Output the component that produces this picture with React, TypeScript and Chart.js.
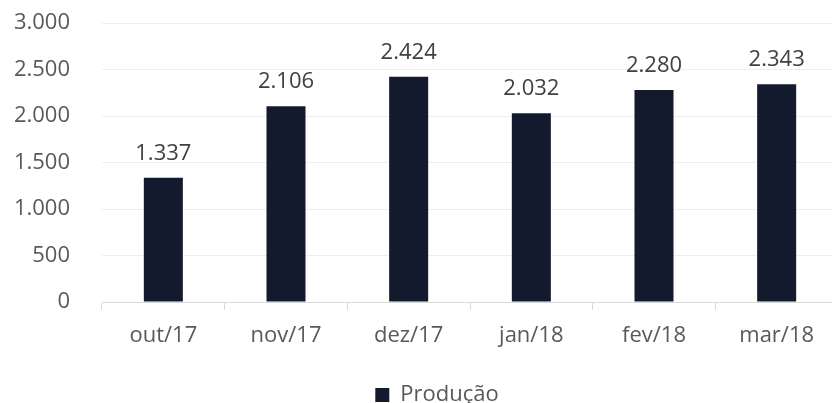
import React, { useEffect, useRef } from "react";
import { Chart, registerables } from "chart.js";

Chart.register(...registerables);

const categories = ["out/17", "nov/17", "dez/17", "jan/18", "fev/18", "mar/18"];
const producao = [1337, 2106, 2424, 2032, 2280, 2343];
const yMin = 0;
const yMax = 3000;
const yStep = 500;
const seriesName = "Produção";

const FONT = "'Open Sans', 'Noto Sans', sans-serif";
const FS = 22;
const BAR = "#141a2e";
const TEXT = "#595959";
const LABEL = "#404040";

const fmt = (v: number) =>
  String(Math.round(v)).replace(/\B(?=(\d{3})+(?!\d))/g, ".");

const dataLabels = {
  id: "dataLabels",
  afterDatasetsDraw(chart: any) {
    const ctx = chart.ctx;
    const meta = chart.getDatasetMeta(0);
    ctx.save();
    ctx.font = `${FS}px ${FONT}`;
    ctx.fillStyle = LABEL;
    ctx.textAlign = "center";
    ctx.textBaseline = "alphabetic";
    meta.data.forEach((bar: any, i: number) => {
      ctx.fillText(fmt(producao[i]), bar.x, bar.y - 18);
    });
    ctx.restore();
  },
};

const legendShift = {
  id: "legendShift",
  afterLayout(chart: any) {
    const lg = chart.legend;
    if (lg) {
      lg.left += 18;
      lg.right += 18;
    }
  },
};

export default function App() {
  const ref = useRef<HTMLCanvasElement | null>(null);
  useEffect(() => {
    if (!ref.current) return;
    const chart = new Chart(ref.current, {
      type: "bar",
      data: {
        labels: categories,
        datasets: [
          {
            label: seriesName,
            data: producao,
            backgroundColor: BAR,
            borderWidth: 0,
            categoryPercentage: 1,
            barPercentage: 0.318,
          },
        ],
      },
      options: {
        responsive: false,
        animation: false,
        layout: { padding: { top: 0, left: 0, right: 0, bottom: -13 } },
        plugins: {
          tooltip: { enabled: false },
          legend: {
            position: "bottom",
            labels: {
              boxWidth: 14,
              boxHeight: 14,
              padding: 0,
              color: TEXT,
              font: { family: FONT, size: FS },
            },
          },
        },
        scales: {
          x: {
            offset: true,
            grid: {
              display: true,
              drawOnChartArea: false,
              drawTicks: true,
              tickLength: 8,
              color: "#d9d9d9",
              offset: true,
            },
            border: { display: true, color: "#d9d9d9", width: 1 },
            ticks: {
              color: TEXT,
              font: { family: FONT, size: FS },
              padding: 13,
              maxRotation: 0,
            },
            afterFit: (s: any) => {
              s.height = 82;
            },
          },
          y: {
            min: yMin,
            max: yMax,
            grid: { color: "#eeeeee", drawTicks: false, lineWidth: 1 },
            border: { display: false },
            ticks: {
              stepSize: yStep,
              color: TEXT,
              font: { family: FONT, size: FS },
              padding: 32,
              callback: (v: any) => fmt(Number(v)),
            },
            afterFit: (s: any) => {
              s.width = 102;
            },
          },
        },
      },
      plugins: [dataLabels, legendShift],
    });
    return () => chart.destroy();
  }, []);
  return (
    <div
      style={{
        position: "fixed",
        left: 0,
        top: 0,
        width: 838,
        height: 403,
        overflow: "hidden",
        background: "#fff",
      }}
    >
      <canvas
        ref={ref}
        width={838}
        height={425}
        style={{ display: "block", position: "absolute", left: 0, top: -22 }}
      />
    </div>
  );
}
